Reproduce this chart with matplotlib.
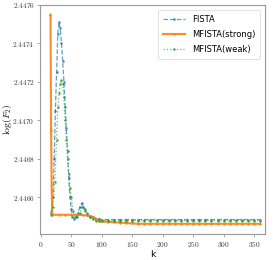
import numpy as np
import matplotlib
matplotlib.use('Agg')
import matplotlib.pyplot as plt
from matplotlib.ticker import FuncFormatter

plt.rcParams['mathtext.fontset'] = 'cm'

tail_k = list(range(100, 361, 10))

k_fista = [17, 20, 22, 24, 26, 28, 30, 32, 34, 36, 38, 40, 42, 44, 46, 48, 50, 52, 55,
           58, 61, 64, 67, 70, 73, 76, 80, 85, 90, 95] + tail_k
f_fista = [2.44652, 2.44660, 2.44680, 2.44705, 2.44725, 2.44745, 2.44751, 2.44748,
           2.44740, 2.44731, 2.44720, 2.44707, 2.44696, 2.44684, 2.44670, 2.44660,
           2.44654, 2.44650, 2.44649, 2.44650, 2.44652, 2.44655, 2.44657, 2.44655,
           2.44653, 2.44651, 2.44650, 2.44650, 2.44649, 2.44649] + [2.446485] * len(tail_k)

k_strong = [16, 17, 18, 19, 30, 40, 50, 60, 70, 80, 85, 90, 95, 100, 110, 120, 130,
            140, 150] + list(range(160, 361, 10))
f_strong = [2.44755, 2.44695, 2.44664, 2.44651, 2.44651, 2.44651, 2.44651, 2.44651,
            2.446508, 2.446505, 2.446500, 2.446490, 2.446480, 2.446475, 2.446473,
            2.446471, 2.446469, 2.446467, 2.446465] + [2.446463] * len(range(160, 361, 10))

k_weak = [17, 20, 23, 26, 28, 30, 32, 34, 36, 38, 40, 42, 44, 46, 48, 50, 53, 56, 60,
          64, 68, 72, 76, 80, 85, 90, 95] + tail_k
f_weak = [2.44651, 2.44655, 2.44668, 2.44690, 2.44707, 2.44714, 2.44719, 2.44721,
          2.44719, 2.44712, 2.44700, 2.44690, 2.44680, 2.44672, 2.44665, 2.44660,
          2.44653, 2.44650, 2.44650, 2.44652, 2.44655, 2.44654, 2.44652, 2.44650,
          2.44649, 2.44648, 2.44648] + [2.44648] * len(tail_k)

fig = plt.figure(figsize=(2.73, 2.60), dpi=100)
ax = fig.add_axes([0.147, 0.10, 0.824, 0.881])

ax.plot(k_fista, f_fista, '--', marker='.', ms=1.8, lw=0.9, color='#1f77b4',
        alpha=0.7, label='FISTA')
ax.plot(k_strong, f_strong, '-', marker='.', ms=1.5, lw=1.5, color='#ff7f0e',
        alpha=0.9, label='MFISTA(strong)')
ax.plot(k_weak, f_weak, ':', marker='.', ms=1.8, lw=0.9, color='#2ca02c',
        alpha=0.7, label='MFISTA(weak)')

ax.set_xlim(-1, 368)
ax.set_ylim(2.44641, 2.4476)
ax.set_xticks([0, 50, 100, 150, 200, 250, 300, 350])
ax.set_yticks([2.4466, 2.4468, 2.4470, 2.4472, 2.4474, 2.4476])
ax.xaxis.set_major_formatter(FuncFormatter(lambda v, p: f'${v:.0f}$'))
ax.yaxis.set_major_formatter(FuncFormatter(lambda v, p: f'${v:.4f}$'))
ax.tick_params(labelsize=5.3, length=2, width=0.5, pad=2, color='#888888',
               labelcolor='#333333')
for s in ax.spines.values():
    s.set_color('#999999')
    s.set_linewidth(0.8)

ax.set_xlabel('k', fontsize=6.5, labelpad=1)
ax.set_ylabel(r'$\log(F_2)$', fontsize=7)
ax.yaxis.set_label_coords(-0.118, 0.5)

leg = ax.legend(loc='upper right', fontsize=6, handlelength=2.6,
                borderpad=0.6, labelspacing=0.7, borderaxespad=0.6, frameon=True)
leg.get_frame().set_linewidth(0.5)

fig.savefig('out.png', dpi=100)
